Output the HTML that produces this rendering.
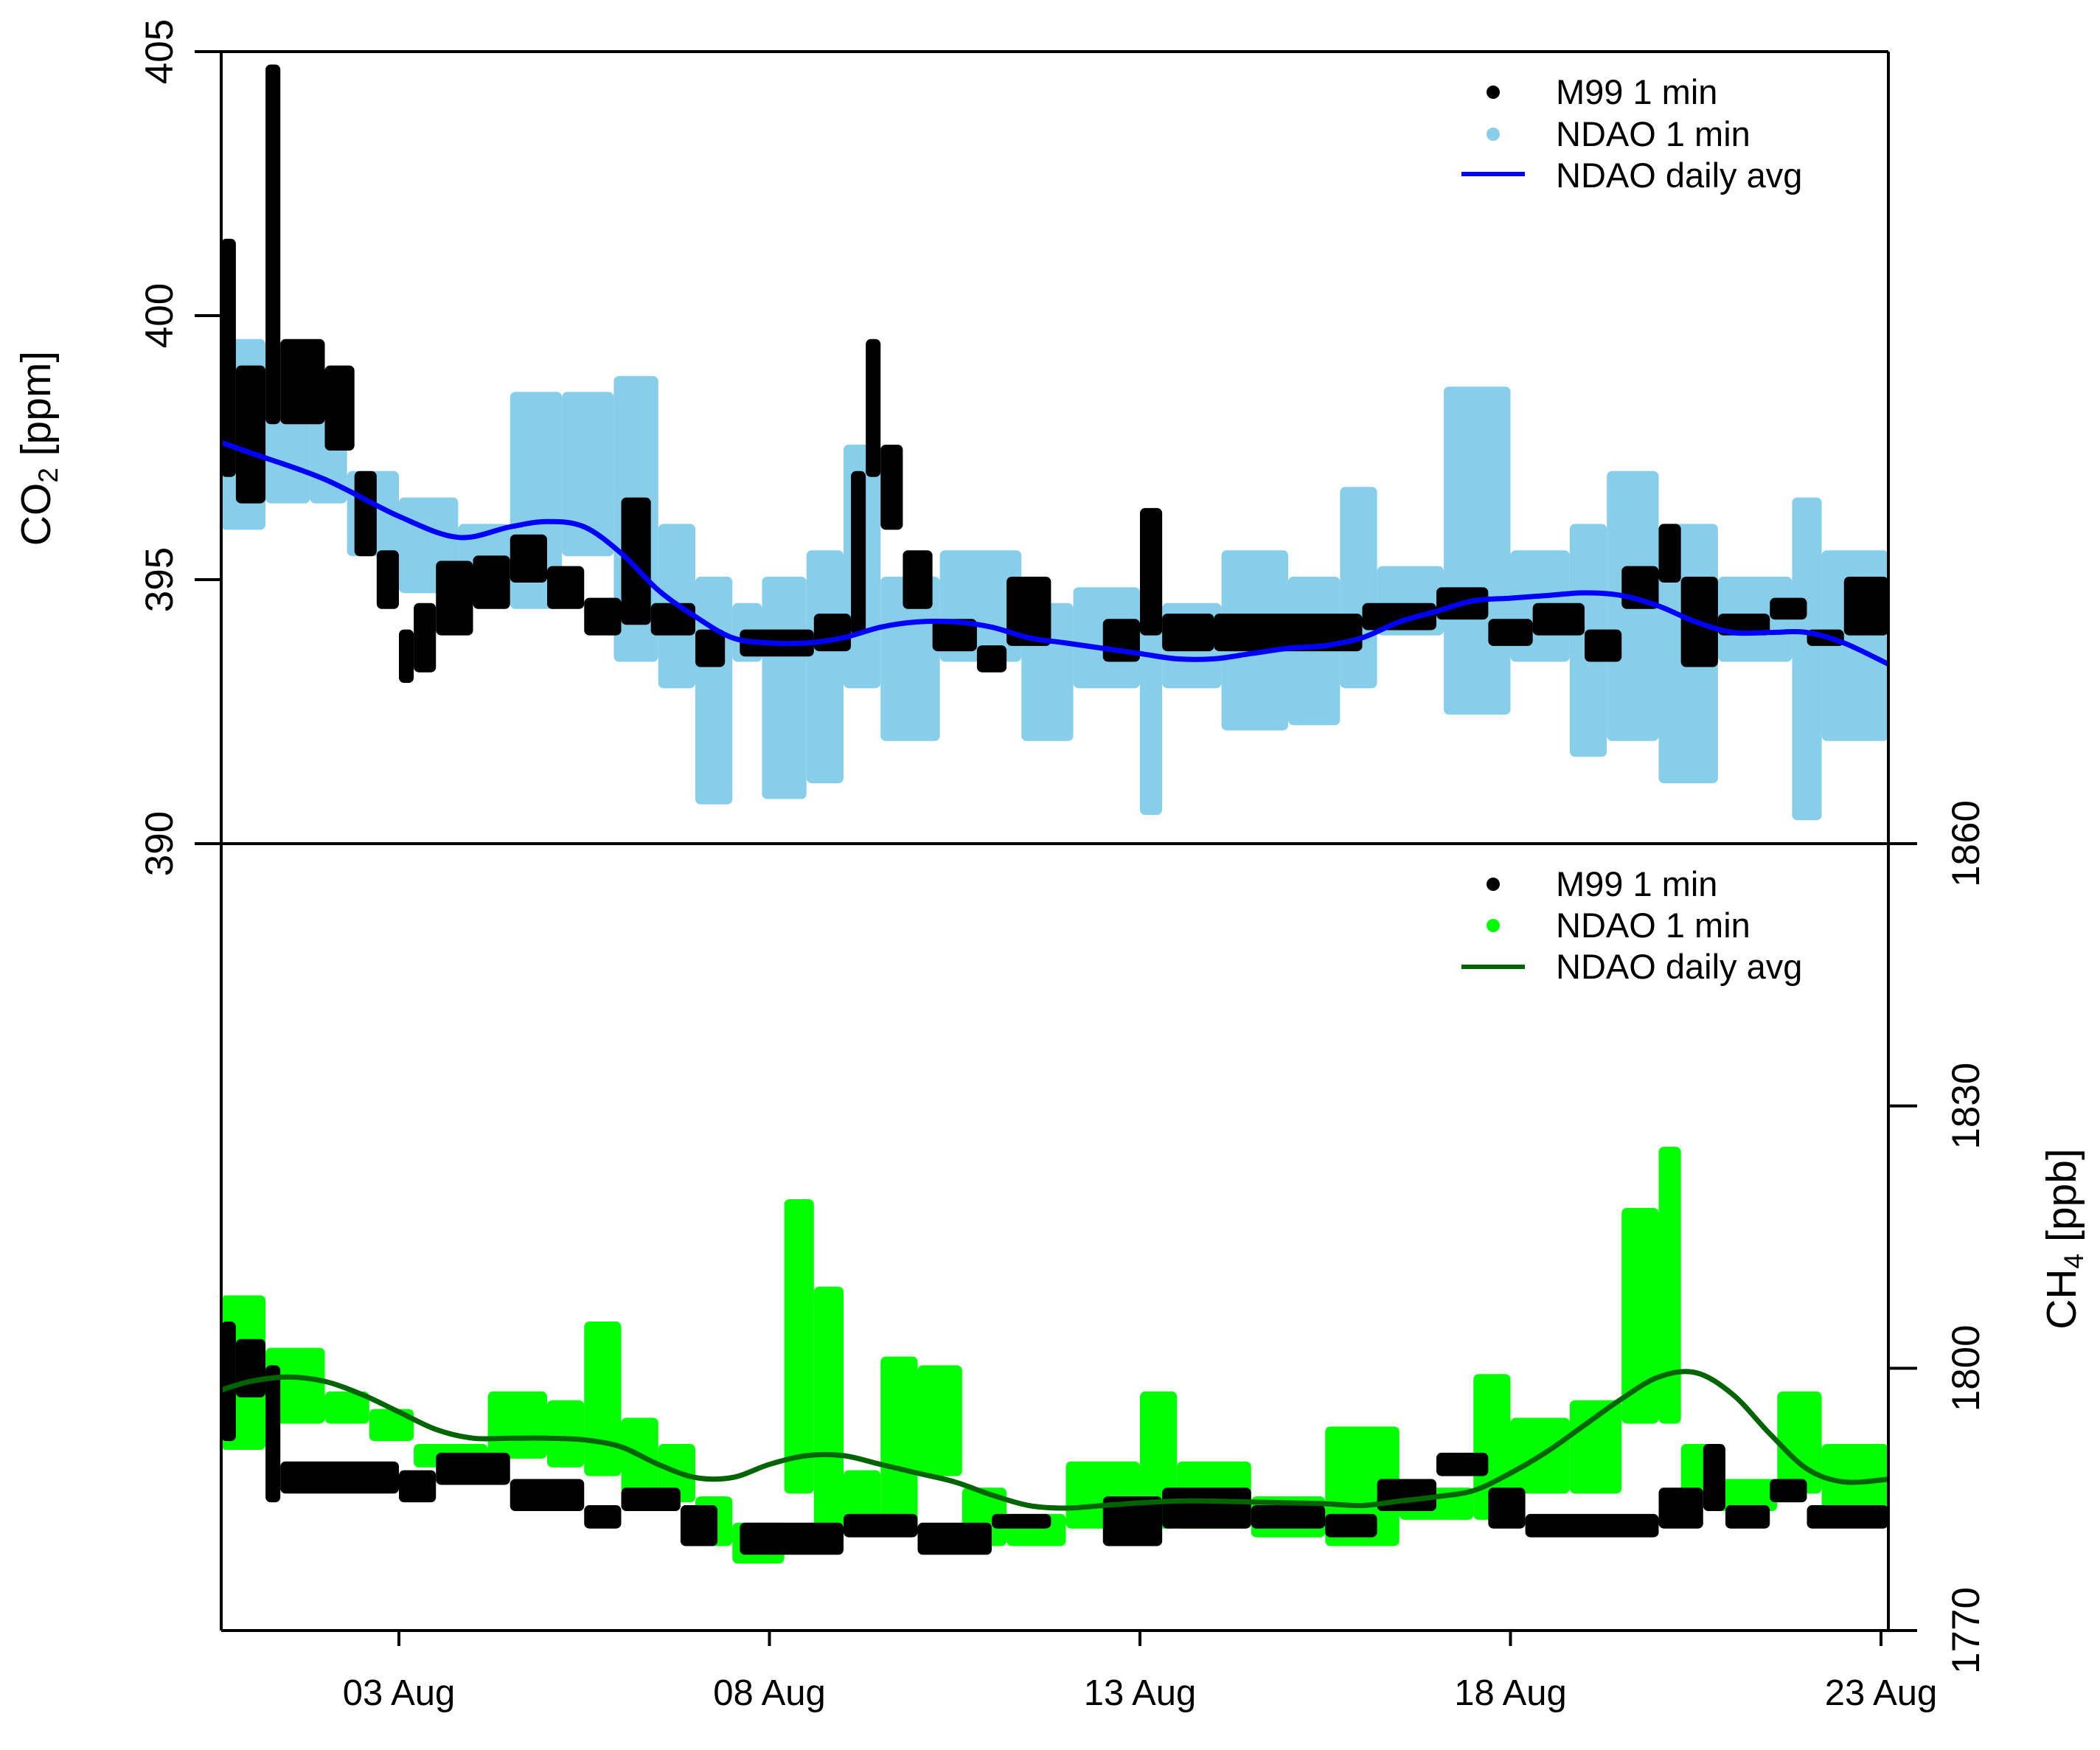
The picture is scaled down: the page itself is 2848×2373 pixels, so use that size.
<!DOCTYPE html>
<html><head><meta charset="utf-8"><style>
html,body{margin:0;padding:0;background:#fff;}
svg{display:block;font-family:"Liberation Sans",Arial,sans-serif;}
</style></head><body>
<svg id="chart" width="2848" height="2373" viewBox="0 0 2848 2373" xmlns="http://www.w3.org/2000/svg">
<g id="marks"></g>
<g id="axes" stroke="#000" stroke-width="4" fill="none">
  <line x1="300" y1="70" x2="300" y2="2211"/>
  <line x1="2561" y1="70" x2="2561" y2="2211"/>
  <line x1="264" y1="70" x2="2561" y2="70"/>
  <line x1="264" y1="1144" x2="2600" y2="1144"/>
  <line x1="300" y1="2211" x2="2600" y2="2211"/>
</g>
<g id="ticks"></g>
<text transform="translate(68,608) rotate(-90)" text-anchor="middle" font-size="57">CO<tspan font-size="37" dy="10">2</tspan><tspan dy="-10"> [ppm]</tspan></text>
<text transform="translate(2815,1680) rotate(-90)" text-anchor="middle" font-size="57">CH<tspan font-size="37" dy="10">4</tspan><tspan dy="-10"> [ppb]</tspan></text>
<g font-size="47">
  <circle cx="2025" cy="125" r="9" fill="#000"/>
  <text x="2110" y="141">M99 1 min</text>
  <circle cx="2025" cy="182" r="9" fill="#87ceeb"/>
  <text x="2110" y="198">NDAO 1 min</text>
  <line x1="1982" y1="236" x2="2068" y2="236" stroke="#0000ff" stroke-width="6"/>
  <text x="2110" y="254">NDAO daily avg</text>
</g>
<g font-size="47">
  <circle cx="2025" cy="1199" r="9" fill="#000"/>
  <text x="2110" y="1215">M99 1 min</text>
  <circle cx="2025" cy="1255" r="9" fill="#00ff00"/>
  <text x="2110" y="1271">NDAO 1 min</text>
  <line x1="1982" y1="1311" x2="2068" y2="1311" stroke="#006400" stroke-width="6"/>
  <text x="2110" y="1327">NDAO daily avg</text>
</g>
</svg>
<script>
// ---- CO2 data (days = day of August) ----
const co2NdaoStart=[0.6,1.2,1.8,2.3,3.0,3.8,4.5,5.2,5.9,6.5,7.0,7.5,7.9,8.5,9.0,9.5,10.3,11.4,12.1,13.0,13.3,14.1,15.0,15.7,16.2,17.1,18.0,18.8,19.3,20.0,20.8,21.8,22.2];
const co2NdaoLo=[396,396.5,396.5,395.5,394.8,395,394.5,395.5,393.5,393,390.8,393.5,390.9,391.2,393,392,393.5,392,393,390.6,393,392.2,392.3,393,394,392.5,393.5,391.7,392,391.2,393.5,390.5,392];
const co2NdaoHi=[399.5,398,398.5,397,396.5,396,398.5,398.5,398.8,396,395,394.5,395,395.5,397.5,395,395.5,394.5,394.8,395,394.5,395.5,395,396.7,395.2,398.6,395.5,396,397,396,395,396.5,395.5];
const co2NdaoEnd=23.1;
const co2M99Start=[0.6,0.8,1.2,1.4,2.0,2.4,2.7,3.0,3.2,3.5,4.0,4.5,5.0,5.5,6.0,6.4,7.0,7.6,8.6,9.1,9.3,9.5,9.8,10.2,10.8,11.2,12.5,13.0,13.3,14.0,16.0,17.0,17.7,18.3,19.0,19.5,20.0,20.3,20.8,21.5,22.0,22.5];
const co2M99End=[0.8,1.2,1.4,2.0,2.4,2.7,3.0,3.2,3.5,4.0,4.5,5.0,5.5,6.0,6.4,7.0,7.4,8.6,9.1,9.3,9.5,9.8,10.2,10.8,11.2,11.8,13.0,13.3,14.0,16.0,17.0,17.7,18.3,19.0,19.5,20.0,20.3,20.8,21.5,22.0,22.5,23.1];
const co2M99Lo=[397,396.5,398,398,397.5,395.5,394.5,393.1,393.3,394,394.5,395,394.5,394,394.2,394,393.4,393.6,393.7,394,397,396,394.5,393.7,393.3,393.8,393.5,394,393.7,393.7,394.1,394.3,393.8,394,393.5,394.5,395,393.4,394,394.3,393.8,394];
const co2M99Hi=[401.4,399,404.7,399.5,399,397,395.5,394,394.5,395.3,395.4,395.8,395.2,394.6,396.5,394.5,394,394,394.3,397,399.5,397.5,395.5,394.2,393.7,395,394.2,396.3,394.3,394.3,394.5,394.8,394.2,394.5,394,395.2,396,395,394.3,394.6,394,395];
const co2AvgDays=[0.6,1,2,3,3.8,4.5,5,5.5,6,6.5,7,7.5,8,8.5,9,9.5,10,10.5,11,11.5,12,12.5,13,13.5,14,14.5,15,15.5,16,16.5,17,17.5,18,18.5,19,19.5,20,20.5,21,21.5,22,22.5,23.1];
const co2AvgVals=[397.6,397.4,396.9,396.2,395.8,396.0,396.1,396.0,395.5,394.8,394.3,393.9,393.8,393.8,393.9,394.1,394.2,394.2,394.1,393.9,393.8,393.7,393.6,393.5,393.5,393.6,393.7,393.75,393.9,394.2,394.4,394.6,394.65,394.7,394.75,394.7,394.5,394.2,394.0,394.0,394.0,393.8,393.4];
// ---- CH4 data ----
const ch4NdaoStart=[0.6,1.2,2.0,2.6,3.2,4.2,5.0,5.5,6.0,6.5,7.0,7.5,8.2,8.6,9.0,9.5,10.0,10.6,11.2,12.0,13.0,13.5,14.5,15.5,16.5,17.5,18.0,18.8,19.5,20.0,20.3,20.8,21.6,22.2];
const ch4NdaoLo=[1791,1794,1794,1792,1789,1790,1789,1788,1786,1785,1780,1778,1786,1782,1782,1782,1788,1780,1780,1782,1782,1782,1781,1780,1783,1783,1786,1786,1794,1794,1786,1784,1786,1783];
const ch4NdaoHi=[1808,1802,1797,1795,1791,1797,1796,1805,1794,1791,1785,1782,1819,1809,1788,1801,1800,1786,1783,1789,1797,1789,1785,1793,1786,1799,1794,1796,1818,1825,1791,1787,1797,1791];
const ch4NdaoEnd=23.1;
const ch4M99Start=[0.6,0.8,1.2,1.4,3.0,3.5,4.5,5.5,6.0,6.8,7.6,9.0,10.0,11.0,12.5,13.3,14.5,15.5,16.2,17.0,17.7,18.2,20.0,20.6,20.9,21.5,22.0];
const ch4M99End=[0.8,1.2,1.4,3.0,3.5,4.5,5.5,6.0,6.8,7.3,9.0,10.0,11.0,11.8,13.3,14.5,15.5,16.2,17.0,17.7,18.2,20.0,20.6,20.9,21.5,22.0,23.1];
const ch4M99Lo=[1792,1797,1785,1786,1785,1787,1784,1782,1784,1780,1779,1781,1779,1782,1780,1782,1782,1781,1784,1788,1782,1781,1782,1784,1782,1785,1782];
const ch4M99Hi=[1805,1803,1800,1789,1788,1790,1787,1784,1786,1784,1782,1783,1782,1783,1785,1786,1784,1783,1787,1790,1786,1783,1786,1791,1784,1787,1784];
const ch4AvgDays=[0.6,1,1.5,2,2.5,3,3.5,4,4.5,5,5.5,6,6.5,7,7.5,8,8.5,9,9.5,10,10.5,11,11.5,12,12.5,13,13.5,14,14.5,15,15.5,16,16.5,17,17.5,18,18.5,19,19.5,20,20.5,21,21.5,22,22.5,23.1];
const ch4AvgVals=[1797.5,1798.5,1799,1798.5,1797,1795,1793,1792,1792,1792,1791.8,1791,1789,1787.5,1787.5,1789,1790,1790,1789,1788,1787,1785.5,1784.3,1784,1784.3,1784.6,1784.8,1784.8,1784.7,1784.6,1784.5,1784.3,1784.8,1785.3,1786,1788,1790.5,1793.5,1796.5,1799,1799.5,1797,1792.5,1788.5,1787,1787.3];
// ---- ticks ----
const co2Ticks=[390,395,400,405];
const ch4Ticks=[1770,1800,1830,1860];
const xTickDays=[3,8,13,18,23];
const xTickLabels=["03 Aug","08 Aug","13 Aug","18 Aug","23 Aug"];

const NS="http://www.w3.org/2000/svg";
function xs(d){return 541+(d-3)*100.5;}
function yCO2(v){return 70+(405-v)*(1144-70)/15;}
function yCH4(v){return 2211-(v-1770)*(2211-1144)/90;}
const marks=document.getElementById('marks');
const ticks=document.getElementById('ticks');
function mk(tag,attrs,parent){const e=document.createElementNS(NS,tag);for(const k in attrs)e.setAttribute(k,attrs[k]);parent.appendChild(e);return e;}

function bands(starts,ends,lo,hi,ys,color,name){
  const g=mk('g',{},marks);
  
  
  for(let i=0;i<starts.length;i++){
    const e=Array.isArray(ends)?ends[i]:(i+1<starts.length?starts[i+1]:ends);
    const x0=xs(starts[i]),x1=xs(e);
    const y0=ys(hi[i])-4,y1=ys(lo[i])+4;
    const r=mk('rect',{x:x0,y:y0,width:Math.max(4,x1-x0),height:Math.max(8,y1-y0),rx:7,fill:color},g);
    
    
  }
}
function line(days,vals,ys,color,name){
  const P=days.map((d,i)=>[xs(d),ys(vals[i])]);
  let s='M'+P[0][0].toFixed(1)+','+P[0][1].toFixed(1);
  for(let i=0;i<P.length-1;i++){
    const p0=P[Math.max(0,i-1)],p1=P[i],p2=P[i+1],p3=P[Math.min(P.length-1,i+2)];
    const c1=[p1[0]+(p2[0]-p0[0])/6,p1[1]+(p2[1]-p0[1])/6];
    const c2=[p2[0]-(p3[0]-p1[0])/6,p2[1]-(p3[1]-p1[1])/6];
    s+=' C'+c1.map(v=>v.toFixed(1)).join(',')+' '+c2.map(v=>v.toFixed(1)).join(',')+' '+p2.map(v=>v.toFixed(1)).join(',');
  }
  const p=mk('path',{d:s,fill:'none',stroke:color,'stroke-width':7,'stroke-linejoin':'round'},marks);
  
  
}
bands(co2NdaoStart,co2NdaoEnd,co2NdaoLo,co2NdaoHi,yCO2,'#87ceeb','co2-ndao-series');
bands(co2M99Start,co2M99End,co2M99Lo,co2M99Hi,yCO2,'#000','co2-m99-series');
line(co2AvgDays,co2AvgVals,yCO2,'#0000ff','co2-daily-avg-line');
bands(ch4NdaoStart,ch4NdaoEnd,ch4NdaoLo,ch4NdaoHi,yCH4,'#00ff00','ch4-ndao-series');
bands(ch4M99Start,ch4M99End,ch4M99Lo,ch4M99Hi,yCH4,'#000','ch4-m99-series');
line(ch4AvgDays,ch4AvgVals,yCH4,'#006400','ch4-daily-avg-line');

co2Ticks.forEach(v=>{
  const y=yCO2(v);
  mk('line',{x1:264,y1:y,x2:300,y2:y,stroke:'#000','stroke-width':4},ticks);
  const t=mk('text',{transform:'translate(234,'+y+') rotate(-90)','text-anchor':'middle','font-size':53},ticks);
  t.textContent=v;
  
  
});
ch4Ticks.forEach(v=>{
  const y=yCH4(v);
  mk('line',{x1:2561,y1:y,x2:2600,y2:y,stroke:'#000','stroke-width':4},ticks);
  const t=mk('text',{transform:'translate(2684,'+y+') rotate(-90)','text-anchor':'middle','font-size':53},ticks);
  t.textContent=v;
  
  
});
xTickDays.forEach((d,i)=>{
  const x=xs(d);
  mk('line',{x1:x,y1:2211,x2:x,y2:2232,stroke:'#000','stroke-width':4},ticks);
  const t=mk('text',{x:x,y:2312,'text-anchor':'middle','font-size':49},ticks);
  t.textContent=xTickLabels[i];
  
  
});
</script>
</body></html>
